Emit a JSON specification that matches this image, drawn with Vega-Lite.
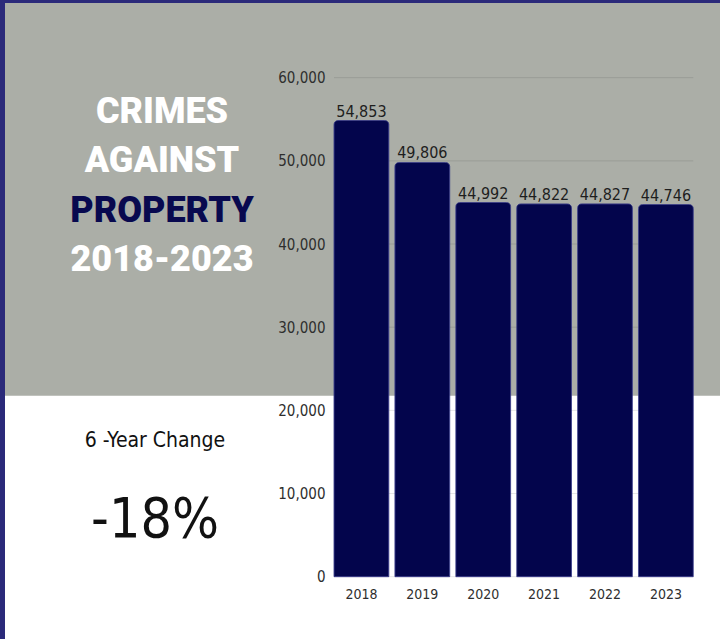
{
  "$schema": "https://vega.github.io/schema/vega-lite/v6.json",
  "width": 715,
  "height": 636,
  "autosize": {"type": "none"},
  "padding": {"left": 5, "top": 3, "right": 0, "bottom": 0},
  "background": "#2b2a7a",
  "config": {
    "view": {"fill": "#ffffff", "stroke": null},
    "axis": {"labelFont": "DejaVu Sans Condensed, sans-serif", "labelColor": "#2e2e2e", "grid": false, "ticks": false, "domain": false, "title": null, "zindex": 1}
  },
  "datasets": {
    "bars": [
      {"year": "2018", "count": 54853},
      {"year": "2019", "count": 49806},
      {"year": "2020", "count": 44992},
      {"year": "2021", "count": 44822},
      {"year": "2022", "count": 44827},
      {"year": "2023", "count": 44746}
    ],
    "grid": [{"v": 0}, {"v": 10000}, {"v": 20000}, {"v": 30000}, {"v": 40000}, {"v": 50000}, {"v": 60000}],
    "headline": [{"t": "CRIMES"}, {"t": "AGAINST"}, {"t": "PROPERTY"}, {"t": "2018-2023"}],
    "sub": [{"t": "6 -Year Change"}, {"t": "-18%"}]
  },
  "layer": [
    {
      "layer": [
        {
          "data": {"values": [{"band": "upper"}]},
          "mark": {"type": "rect", "color": "#abaea7", "clip": true},
          "encoding": {
            "y": {
              "datum": 21750, "type": "quantitative",
              "scale": {"domain": [0, 60000], "range": [573.7, 74.7], "nice": false, "zero": false},
              "axis": {"orient": "left", "offset": -329, "labelPadding": 9, "labelFontSize": 15, "values": [0, 10000, 20000, 30000, 40000, 50000, 60000], "format": ",.0f", "zindex": 1}
            },
            "y2": {"datum": 90000}
          }
        },
        {
          "data": {"name": "grid"},
          "mark": {"type": "rule", "color": "#000000", "opacity": 0.1, "strokeWidth": 1},
          "encoding": {
            "y": {"field": "v", "type": "quantitative"},
            "x": {
              "datum": "2018", "type": "nominal", "bandPosition": 0,
              "scale": {"domain": ["2018", "2019", "2020", "2021", "2022", "2023"], "range": [329, 688.3], "paddingInner": 0.1, "paddingOuter": 0},
              "axis": {"orient": "bottom", "offset": -62.3, "labelPadding": 11, "labelFontSize": 14, "labelAngle": 0, "bandPosition": 0.5, "zindex": 1}
            },
            "x2": {"datum": "2023", "bandPosition": 1}
          }
        },
        {
          "data": {"name": "bars"},
          "mark": {"type": "bar", "color": "#03054c", "stroke": "#2e3180", "strokeWidth": 0.8, "cornerRadiusTopLeft": 4, "cornerRadiusTopRight": 4},
          "encoding": {
            "x": {"field": "year", "type": "nominal", "sort": null},
            "y": {"field": "count", "type": "quantitative"}
          }
        },
        {
          "data": {"name": "bars"},
          "mark": {"type": "text", "align": "center", "baseline": "alphabetic", "dy": -4, "fontSize": 16, "font": "DejaVu Sans Condensed, sans-serif", "color": "#1e1e1e"},
          "encoding": {
            "x": {"field": "year", "type": "nominal", "sort": null},
            "y": {"field": "count", "type": "quantitative"},
            "text": {"field": "count", "type": "quantitative", "format": ","}
          }
        }
      ]
    },
    {
      "data": {"name": "headline"},
      "mark": {"type": "text", "align": "center", "baseline": "alphabetic", "font": "Roboto", "fontWeight": 900, "fontSize": 36},
      "encoding": {
        "x": {"field": "t", "type": "nominal", "scale": {"type": "point", "range": [157, 157]}, "axis": null},
        "y": {"field": "t", "type": "nominal", "sort": null, "scale": {"type": "point", "domain": ["CRIMES", "AGAINST", "PROPERTY", "2018-2023"], "range": [120, 268], "padding": 0}, "axis": null},
        "text": {"field": "t"},
        "color": {"condition": {"test": "datum.t === 'PROPERTY'", "value": "#08094f"}, "value": "#ffffff"}
      }
    },
    {
      "data": {"name": "sub"},
      "mark": {"type": "text", "align": "center", "baseline": "alphabetic", "font": "DejaVu Sans Condensed, sans-serif", "color": "#111111"},
      "encoding": {
        "x": {"field": "t", "type": "nominal", "scale": {"type": "point", "range": [150, 150]}, "axis": null},
        "y": {"field": "t", "type": "nominal", "sort": null, "scale": {"type": "point", "domain": ["6 -Year Change", "-18%"], "range": [443.7, 533.7], "padding": 0}, "axis": null},
        "text": {"field": "t"},
        "size": {"field": "t", "type": "ordinal", "scale": {"domain": ["6 -Year Change", "-18%"], "range": [21, 55]}, "legend": null}
      }
    }
  ],
  "resolve": {"scale": {"x": "independent", "y": "independent", "size": "independent"}}
}
